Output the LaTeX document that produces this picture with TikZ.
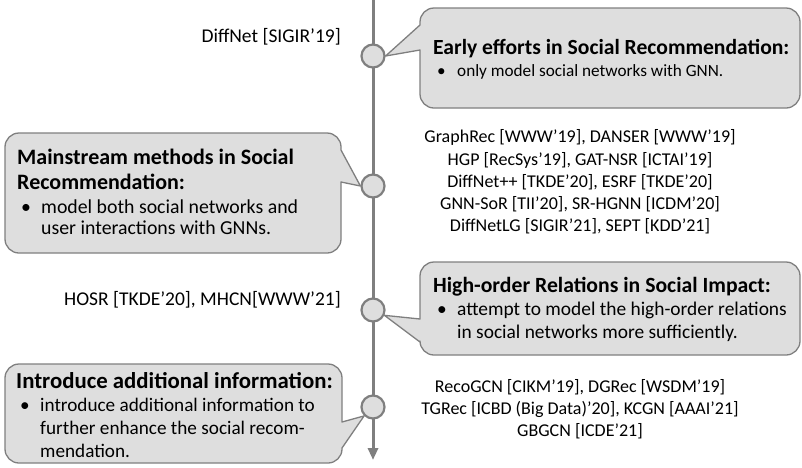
\documentclass[tikz,border=0pt]{standalone}
\usepackage{fontspec}
\setmainfont{Carlito}
\usetikzlibrary{arrows.meta, positioning}
\definecolor{axisgray}{HTML}{7F7F7F}
\definecolor{boxgray}{HTML}{DEDEDE}
\tikzstyle{event} = [circle, minimum size=23pt, inner sep=0pt, draw=axisgray, line width=2.2pt, fill=boxgray]
\tikzstyle{callout} = [draw=axisgray, line width=1.3pt, fill=boxgray, line join=round]
\tikzstyle{works} = [align=center, inner sep=0pt, font=\fontsize{18}{22.2}\selectfont]
\tikzstyle{venue} = [anchor=east, inner sep=0pt, font=\fontsize{19.5}{23}\selectfont]
\tikzstyle{timeline} = [axisgray, line width=3pt, -{Triangle[length=12pt,width=10pt]}]
\tikzset{boxtitle/.style={anchor=base west, inner sep=0pt, font=\fontsize{#1}{#1}\selectfont\bfseries},
         boxline/.style={anchor=base west, inner sep=0pt, font=\fontsize{#1}{#1}\selectfont}}
\newcommand{\bul}{\hspace*{4pt}\makebox[20pt][l]{\textbullet}}
\newcommand{\ind}{\hspace*{24pt}}

\begin{document}
\begin{tikzpicture}[x=1pt, y=-1pt]
    \useasboundingbox (0,0) rectangle (802,467);
    \coordinate (top) at (373,0);
    \coordinate (bottom) at (373,460);
    \draw [timeline] (top) -- (bottom);

    \node (c1) [event] at (373,56) {};
    \node (c2) [event] at (373,186) {};
    \node (c3) [event] at (373,310) {};
    \node (c4) [event] at (373,407) {};

    % callout boxes
    \draw [callout] (420,25) [rounded corners=14pt] -- (420,8) -- (800,8) -- (800,108) -- (420,108) [sharp corners] -- (420,50) -- (c1.east) -- cycle;
    \draw [callout] (341,182) [rounded corners=14pt] -- (341,253) -- (5,253) -- (5,133) -- (341,133) [sharp corners] -- (341,150) -- (c2.west) -- cycle;
    \draw [callout] (420,319) [rounded corners=14pt] -- (420,262) -- (800,262) -- (800,355) -- (420,355) [sharp corners] -- (420,342) -- (c3.-25) -- cycle;
    \draw [callout] (342,422) [rounded corners=14pt] -- (342,364) -- (5,364) -- (5,463) -- (342,463) [sharp corners] -- (342,448) -- (c4.south west) -- cycle;

    % box texts
    \node (early) [boxtitle=21.6] at (433,54.5) {Early efforts in Social Recommendation:};
    \node (early1) [boxline=17.2] at (433,76) {\bul only model social networks with GNN.};

    \node (main) [boxtitle=22] at (17,164.5) {Mainstream methods in Social};
    \node (main2) [boxtitle=22] at (17,189.5) {Recommendation:};
    \node (main3) [boxline=19.8] at (17,213.5) {\bul model both social networks and};
    \node (main4) [boxline=19.8] at (17,234.5) {\ind user interactions with GNNs.};

    \node (high) [boxtitle=21.7] at (433,292) {High-order Relations in Social Impact:};
    \node (high1) [boxline=19.4] at (433,315.5) {\bul attempt to model the high-order relations};
    \node (high2) [boxline=19.4] at (433,338.5) {\ind in social networks more sufficiently.};

    \node (extra) [boxtitle=22.8] at (16,388.5) {Introduce additional information:};
    \node (extra1) [boxline=19.2] at (16,411) {\bul introduce additional information to};
    \node (extra2) [boxline=19.2] at (16,434) {\ind further enhance the social recom-};
    \node (extra3) [boxline=19.2] at (16,457) {\ind mendation.};

    % methods on the other side of the timeline
    \node (diffnet) [venue] at (341,37) {DiffNet [SIGIR’19]};
    \node (graphrec) [works] at (580,182) {GraphRec [WWW’19], DANSER [WWW’19]\\
        HGP [RecSys’19], GAT-NSR [ICTAI’19]\\
        DiffNet++ [TKDE’20], ESRF [TKDE’20]\\
        GNN-SoR [TII’20], SR-HGNN [ICDM’20]\\
        DiffNetLG [SIGIR’21], SEPT [KDD’21]};
    \node (hosr) [venue] at (341,300) {HOSR [TKDE’20], MHCN[WWW’21]};
    \node (recogcn) [works] at (580,409) {RecoGCN [CIKM’19], DGRec [WSDM’19]\\
        TGRec [ICBD (Big Data)’20], KCGN [AAAI’21]\\
        GBGCN [ICDE’21]};
\end{tikzpicture}
\end{document}
